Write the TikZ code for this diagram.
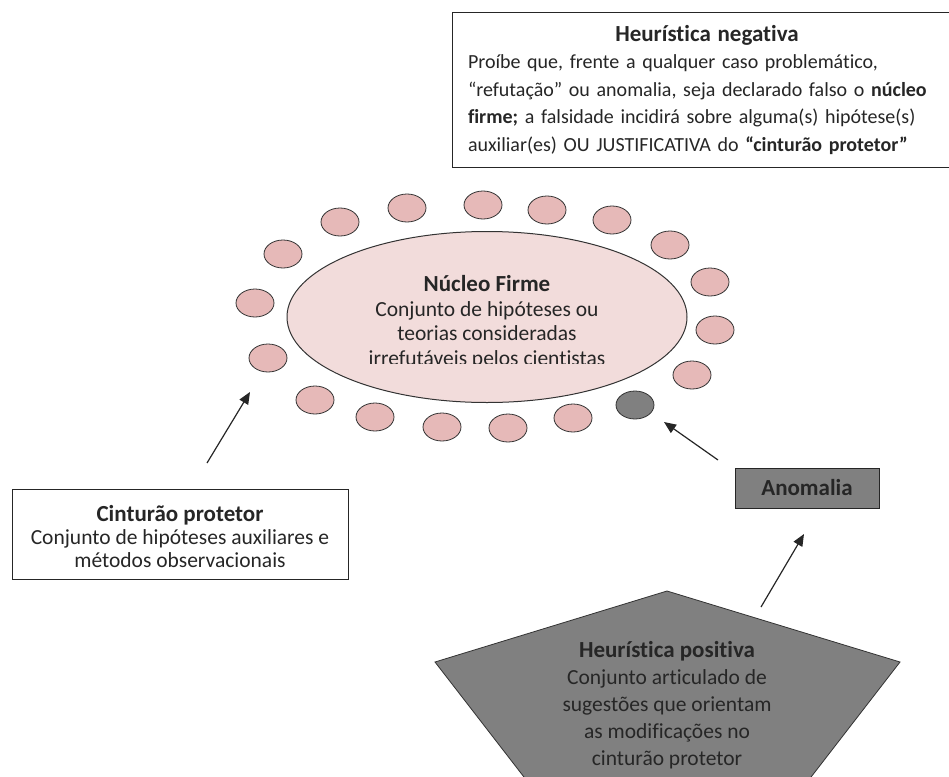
\documentclass[tikz,border=0pt]{standalone}
\usepackage{fontspec}
\setmainfont{Carlito}[Ligatures=NoCommon]
\usetikzlibrary{arrows.meta,shapes.geometric}
\definecolor{pinkfill}{HTML}{E6B9B8}
\definecolor{corefill}{HTML}{F2DCDB}
\definecolor{grayfill}{HTML}{808080}
\newcommand{\ttl}[1]{{\fontsize{23}{23}\selectfont\bfseries #1}}
\tikzset{
  txt/.style={font=\fontsize{21.5}{27.5}\selectfont, text=black!85, inner sep=0pt},
  ball/.style={ellipse, draw=black!80, line width=0.8pt, fill=pinkfill, minimum width=38pt, minimum height=28pt, inner sep=0pt},
  darkball/.style={ball, fill=grayfill},
  boxed/.style={draw=black!85, line width=1pt, fill=white, inner sep=0pt},
  arr/.style={-{Triangle[length=12pt,width=10pt]}, line width=1.2pt, black!85}
}
\begin{document}
\begin{tikzpicture}[x=1pt,y=-1pt]
\useasboundingbox (0,0) rectangle (949,776);
\clip (0,0) rectangle (949,776);
% top box
\node[boxed, minimum width=499pt, minimum height=154pt] (neg) at (701.5,90) {};
\node[txt, text width=478pt, align=left, font=\fontsize{20}{27.5}\selectfont] (negt) at (707,90) {\makebox[\linewidth]{\ttl{Heurística negativa}}\\Proíbe que, frente a qualquer caso problemático,\\“refutação” ou anomalia, seja declarado falso o \textbf{núcleo}\\\textbf{firme;} a falsidade incidirá sobre alguma(s) hipótese(s)\\auxiliar(es) OU JUSTIFICATIVA do \textbf{“cinturão protetor”}};
% core
\node[ellipse, draw=black!80, line width=1pt, fill=corefill, minimum width=400pt, minimum height=171pt] (core) at (487,317) {};
\begin{scope}
\clip (200,200) rectangle (800,363);
\node[txt, align=center, font=\fontsize{21.5}{24.5}\selectfont] (coret) at (487,322) {\ttl{Núcleo Firme}\\Conjunto de hipóteses ou\\teorias consideradas\\irrefutáveis pelos cientistas};
\end{scope}
% belt
\node[ball] (c1) at (340,222) {};
\node[ball] (c2) at (283,254) {};
\node[ball] (c3) at (407,208) {};
\node[ball] (c4) at (483,205) {};
\node[ball] (c5) at (547,210) {};
\node[ball] (c6) at (612,220) {};
\node[ball] (c7) at (670,245) {};
\node[ball] (c8) at (710,282) {};
\node[ball] (c9) at (715,330) {};
\node[ball] (c10) at (692,375) {};
\node[darkball] (c11) at (635,405) {};
\node[ball] (c12) at (573,418) {};
\node[ball] (c13) at (508,428) {};
\node[ball] (c14) at (442,427) {};
\node[ball] (c15) at (375,417) {};
\node[ball] (c16) at (315,400) {};
\node[ball] (c17) at (268,358) {};
\node[ball] (c18) at (255,303) {};
% cinturao box
\node[boxed, minimum width=336pt, minimum height=90pt] (cint) at (180,534) {};
\node[txt, align=center, font=\fontsize{21.5}{23}\selectfont] (cintt) at (180,537) {\ttl{Cinturão protetor}\\Conjunto de hipóteses auxiliares e\\métodos observacionais};
% anomalia
\node[boxed, fill=grayfill, minimum width=144pt, minimum height=40pt, text=black!85] (anom) at (807,488) {\ttl{Anomalia}};
% pentagon
\draw[draw=black!80, line width=0.8pt, fill=grayfill] (667,591) -- (900,662) -- (801,790) -- (534,790) -- (435,662) -- cycle;
\node[txt, align=center, font=\fontsize{21.5}{27}\selectfont] (pos) at (667,705) {\ttl{Heurística positiva}\\Conjunto articulado de\\sugestões que orientam\\as modificações no\\cinturão protetor};
% arrows
\coordinate (a1s) at (207,463);
\coordinate (a1e) at (250,392);
\coordinate (a2s) at (718,460);
\coordinate (a2e) at (664,422);
\coordinate (a3s) at (761,607);
\coordinate (a3e) at (804,534);
\draw[arr] (a1s) -- (a1e);
\draw[arr] (a2s) -- (a2e);
\draw[arr] (a3s) -- (a3e);
\end{tikzpicture}
\end{document}
